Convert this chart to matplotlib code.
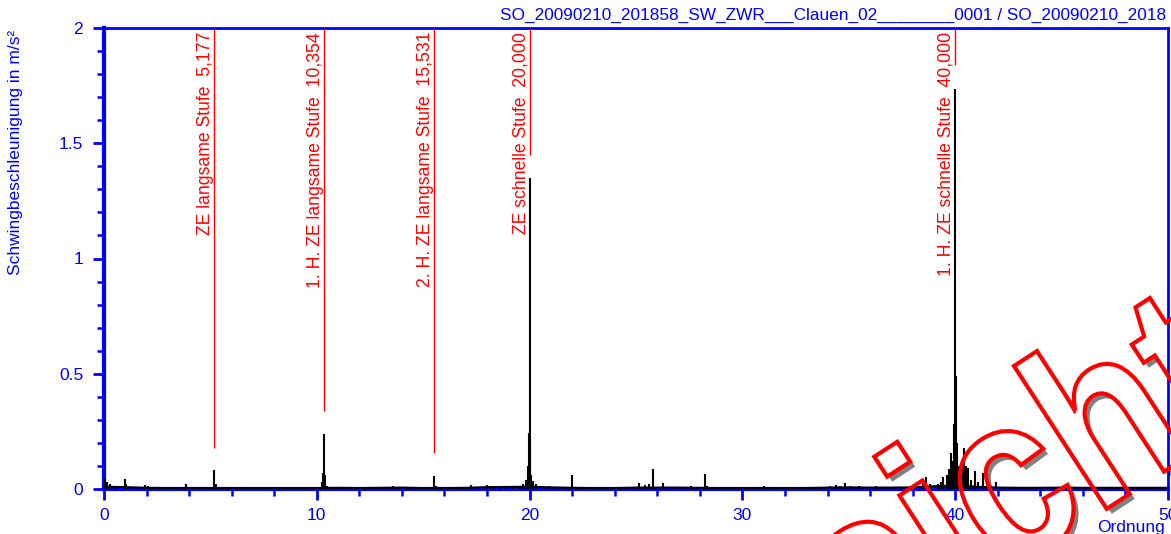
import matplotlib
matplotlib.use('Agg')
import numpy as np
import matplotlib.pyplot as plt
from matplotlib.ticker import MultipleLocator, FuncFormatter
from matplotlib.textpath import TextPath
from matplotlib.font_manager import FontProperties
from matplotlib.patches import PathPatch
from matplotlib.transforms import Affine2D

plt.rcParams['font.family'] = ['Liberation Sans', 'DejaVu Sans']

# Kopfzeile / Achsen
title = "SO_20090210_201858_SW_ZWR___Clauen_02________0001 / SO_20090210_2018"
ylabel = "Schwingbeschleunigung in m/s²"
xlabel = "Ordnung"

# Grundrauschen (Ordnung, m/s²)
base_orders = list(range(0, 51))
base_amps = [0.010, 0.008, 0.005, 0.004, 0.004, 0.004, 0.004, 0.003, 0.003, 0.003,
             0.004, 0.005, 0.004, 0.005, 0.006, 0.004, 0.004, 0.005, 0.008, 0.009,
             0.010, 0.007, 0.005, 0.004, 0.004, 0.006, 0.006, 0.006, 0.005, 0.004,
             0.003, 0.004, 0.003, 0.004, 0.006, 0.007, 0.006, 0.006, 0.007, 0.012,
             0.015, 0.010, 0.006, 0.005, 0.005, 0.006, 0.005, 0.005, 0.005, 0.005,
             0.005]

# Spektrallinien (Ordnung, m/s²)
peak_orders = [0.05, 0.15, 0.3, 0.5, 0.99, 1.05, 1.92, 2.05, 2.9, 3.85, 4.9, 5.18, 5.25,
               5.76, 6.7, 7.6, 8.4, 9.3, 10.25, 10.30, 10.354, 10.40, 10.5, 11.2, 12.0,
               13.6, 13.9, 14.3, 15.531, 15.6, 17.23, 17.98, 18.15, 18.3, 18.6, 18.9,
               19.2, 19.5, 19.7, 19.85, 19.93, 19.97, 20.0, 20.03, 20.08, 20.15, 20.3,
               20.6, 20.9, 21.2, 21.97, 22.97, 23.65, 24.4, 25.16, 25.4, 25.6, 25.8,
               26.26, 26.85, 27.2, 27.6, 28.26, 28.35, 29.5, 30.3, 31.0, 31.8, 32.5,
               33.5, 34.1, 34.4, 34.6, 34.8, 35.1, 35.5, 35.9, 36.3, 36.6, 37.1, 37.5,
               37.97, 38.5, 38.64, 38.8, 39.2, 39.35, 39.45, 39.6, 39.7, 39.8, 39.88,
               39.95, 40.0, 40.03, 40.08, 40.15, 40.3, 40.42, 40.5, 40.6, 40.75, 40.94,
               41.05, 41.3, 41.5, 41.9, 42.3, 43.0, 43.8, 44.6, 45.2, 46.0, 46.8, 47.7,
               48.5, 49.3]
peak_amps = [0.048, 0.030, 0.020, 0.015, 0.043, 0.020, 0.017, 0.012, 0.008, 0.022, 0.006,
             0.082, 0.020, 0.008, 0.007, 0.005, 0.005, 0.005, 0.030, 0.069, 0.240, 0.060,
             0.015, 0.008, 0.008, 0.011, 0.008, 0.006, 0.056, 0.012, 0.016, 0.017, 0.012,
             0.013, 0.010, 0.012, 0.013, 0.012, 0.020, 0.040, 0.100, 0.243, 1.350, 0.200,
             0.060, 0.035, 0.020, 0.015, 0.012, 0.010, 0.059, 0.010, 0.008, 0.006, 0.025,
             0.017, 0.022, 0.085, 0.025, 0.010, 0.008, 0.014, 0.066, 0.012, 0.006, 0.006,
             0.013, 0.006, 0.006, 0.008, 0.012, 0.017, 0.014, 0.026, 0.012, 0.012, 0.010,
             0.012, 0.008, 0.008, 0.010, 0.015, 0.030, 0.052, 0.020, 0.020, 0.032, 0.053,
             0.060, 0.085, 0.155, 0.120, 0.280, 1.735, 0.490, 0.200, 0.100, 0.100, 0.176,
             0.100, 0.090, 0.040, 0.078, 0.030, 0.068, 0.020, 0.032, 0.010, 0.008, 0.006,
             0.007, 0.011, 0.007, 0.007, 0.006, 0.006, 0.006]

# Markierungen
marker_orders = [5.177, 10.354, 15.531, 20.0, 40.0]
marker_ends = [0.18, 0.34, 0.155, 1.45, 1.84]
marker_names = ["ZE langsame Stufe", "1. H. ZE langsame Stufe", "2. H. ZE langsame Stufe",
                "ZE schnelle Stufe", "1. H. ZE schnelle Stufe"]
marker_values = ["5,177", "10,354", "15,531", "20,000", "40,000"]

watermark_word = "Ansicht"

W, H = 1171, 534
fig = plt.figure(figsize=(W / 100, H / 100), dpi=100)
ax = fig.add_axes([104 / W, 1 - 489 / H, 1064 / W, 461 / H])
ax.set_facecolor('none')

blue = (0, 0, 1)
red = (1, 0, 0)
fs = 12.5

ax.plot(base_orders, base_amps, color='black', lw=1.5, zorder=3)
ax.vlines(peak_orders, 0, peak_amps, color='black', lw=1.5, zorder=3)

ax.vlines(marker_orders, marker_ends, 2, color=red, lw=1, zorder=4)
for x, name, val in zip(marker_orders, marker_names, marker_values):
    ax.text(x - 0.02, 1.983, f"{name}  {val}", rotation=90, ha='right', va='top',
            color=red, fontsize=12.7, zorder=4)

ax.set_xlim(0, 50)
ax.set_ylim(0, 2)
ax.xaxis.set_major_locator(MultipleLocator(10))
ax.xaxis.set_minor_locator(MultipleLocator(2))
ax.yaxis.set_major_locator(MultipleLocator(0.5))
ax.yaxis.set_minor_locator(MultipleLocator(0.1))
ax.yaxis.set_major_formatter(FuncFormatter(lambda v, p: f"{v:g}"))

ax.tick_params(which='both', direction='out', color=blue, labelcolor=blue,
               labelsize=fs, top=False, right=False)
ax.tick_params(which='major', length=8, width=2)
ax.tick_params(which='minor', length=5, width=1.8)
ax.tick_params(axis='y', which='major', pad=7)
ax.tick_params(axis='x', which='major', pad=5.5)

for side, lw in [('left', 3), ('bottom', 3), ('top', 2), ('right', 2)]:
    ax.spines[side].set_color(blue)
    ax.spines[side].set_linewidth(lw)

fig.text(1166 / W, 1 - 20 / H, title, ha='right', va='baseline', color=blue, fontsize=12.4)
fig.text(16 / W, 1 - 30 / H, ylabel, rotation=90, ha='center', va='top', color=blue,
         fontsize=fs)
fig.text(1165 / W, 1 - 532 / H, xlabel, ha='right', va='baseline', color=blue, fontsize=fs)

# Wasserzeichen (schmal gestauchte Schrift, gedreht, mit Schatten)
fp = FontProperties(family='Liberation Sans', weight='bold')
size = 235
squeeze = 0.85
angle = 33
anchor = (1014, H - 366)   # obere linke Ecke des h-Stamms in Pixeln
path = TextPath((0, 0), watermark_word, size=size, prop=fp)
h_box = TextPath((0, 0), 'h', size=size, prop=fp).get_extents()
h_right = TextPath((0, 0), watermark_word[:watermark_word.index('h') + 1],
                   size=size, prop=fp).get_extents().x1
ref = np.array([(h_right - h_box.width) * squeeze, h_box.y1])
rx, ry = Affine2D().rotate_deg(angle).transform(ref)
tr = Affine2D().scale(squeeze, 1).rotate_deg(angle).translate(anchor[0] - rx, anchor[1] - ry)
tr_shadow = Affine2D().scale(squeeze, 1).rotate_deg(angle).translate(anchor[0] - rx + 5,
                                                                     anchor[1] - ry - 5)

fig.add_artist(PathPatch(path, transform=tr_shadow, facecolor='#808080', edgecolor='none',
                         zorder=-2))
fig.add_artist(PathPatch(path, transform=tr, facecolor='white', edgecolor='none', zorder=-1))
fig.add_artist(PathPatch(path, transform=tr, facecolor='none', edgecolor=red, lw=3, zorder=5))

fig.savefig('out.png', dpi=100)
